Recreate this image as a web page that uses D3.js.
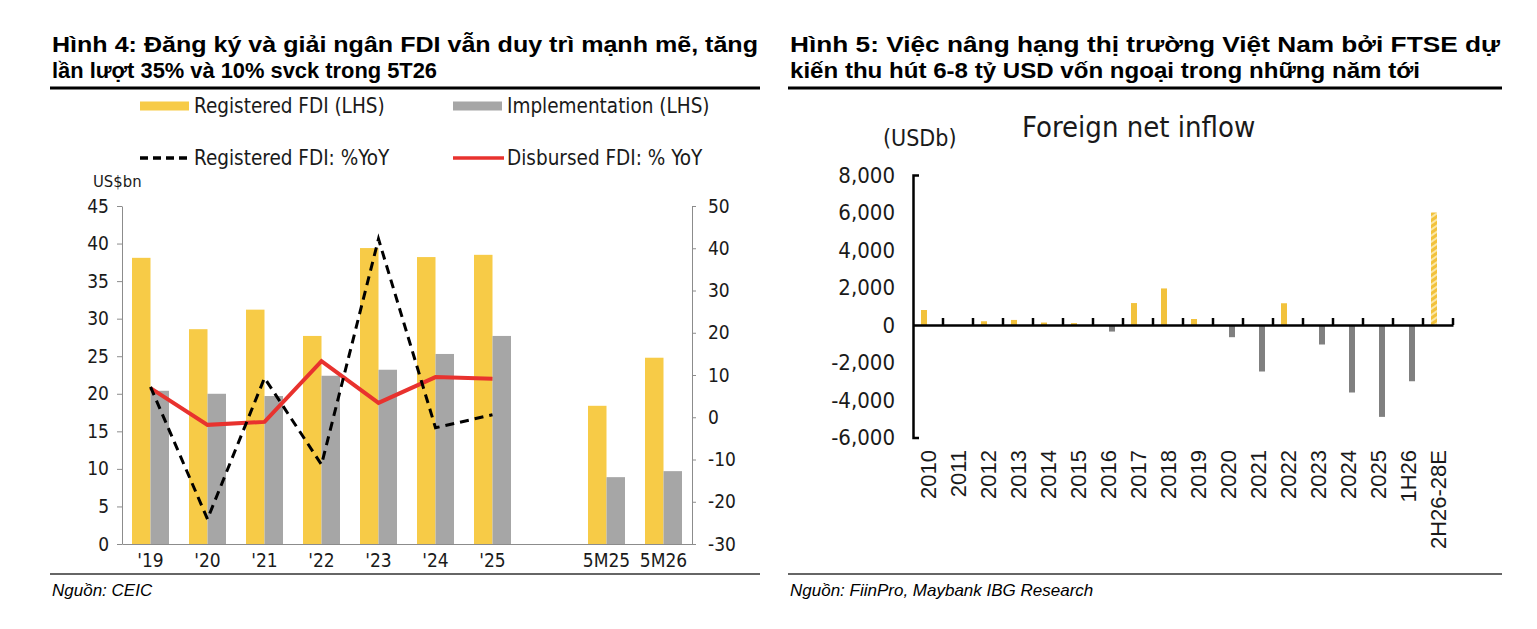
<!DOCTYPE html>
<html lang="vi">
<head>
<meta charset="UTF-8">
<title>FDI and foreign net inflow</title>
<style>
  body { margin: 0; background: #fff; }
  .chart text { font-family: "DejaVu Sans Condensed", "DejaVu Sans", sans-serif; font-stretch: condensed; fill: #1a1a1a; }
  .chart .title { font-family: "Liberation Sans", Arial, sans-serif; font-stretch: normal; font-weight: bold; font-size: 22px; fill: #000; }
  .chart .source { font-family: "Liberation Sans", Arial, sans-serif; font-stretch: normal; font-style: italic; font-size: 17px; fill: #000; }
</style>
</head>
<body>
<div class="canvas"></div>
<script src="https://cdnjs.cloudflare.com/ajax/libs/d3/7.8.5/d3.min.js"></script>
<script>
// ---- data: figure 4 (left)
const leftCats = ["'19", "'20", "'21", "'22", "'23", "'24", "'25", "gap", "5M25", "5M26"];
const registered = [38.1, 28.6, 31.2, 27.7, 39.4, 38.2, 38.5, null, 18.4, 24.8];
const implementation = [20.4, 20.0, 19.7, 22.4, 23.2, 25.3, 27.7, null, 8.9, 9.7];
const regYoY = [7.2, -24.1, 9.3, -11.2, 42.2, -2.5, 0.6];
const disbYoY = [6.9, -1.8, -1.1, 13.3, 3.4, 9.5, 9.1];
const leftTicks = [0, 5, 10, 15, 20, 25, 30, 35, 40, 45];
const rightTicks = [-30, -20, -10, 0, 10, 20, 30, 40, 50];

// ---- data: figure 5 (right)
const flowCats = ['2010', '2011', '2012', '2013', '2014', '2015', '2016', '2017', '2018',
  '2019', '2020', '2021', '2022', '2023', '2024', '2025', '1H26', '2H26-28E'];
const netInflow = [800, 0, 200, 270, 130, 100, -350, 1170, 1950, 320, -650, -2480,
  1160, -1040, -3600, -4900, -3000, 6000];
const flowTicks = [-6000, -4000, -2000, 0, 2000, 4000, 6000, 8000];

const YELLOW = '#f7cb47';
const GREY = '#a6a6a6';
const RED = '#e8322e';
const fmtMinus = f => d => f(d).replace('\u2212', '-');

const svg = d3.select('.canvas')
  .append('svg')
    .attr('class', 'chart')
    .attr('width', 1537)
    .attr('height', 629);

// hatch for the forecast bar
svg.append('defs').append('pattern')
    .attr('id', 'hatch')
    .attr('patternUnits', 'userSpaceOnUse')
    .attr('width', 5).attr('height', 5)
    .attr('patternTransform', 'rotate(-35)')
  .call(p => {
    p.append('rect').attr('width', 5).attr('height', 5).attr('fill', '#fbe7a6');
    p.append('rect').attr('width', 5).attr('height', 3).attr('fill', '#f2c23c');
  });

// ---- titles, rules, sources
function header(x0, x1, line1, line2, w2) {
  svg.append('text').attr('class', 'title').attr('x', x0).attr('y', 52)
    .attr('textLength', x1 - x0).attr('lengthAdjust', 'spacingAndGlyphs').text(line1);
  svg.append('text').attr('class', 'title').attr('x', x0).attr('y', 78)
    .attr('textLength', w2).attr('lengthAdjust', 'spacingAndGlyphs').text(line2);
  svg.append('line').attr('x1', x0 - 2).attr('x2', x1 + 2).attr('y1', 88).attr('y2', 88)
    .attr('stroke', '#000').attr('stroke-width', 3);
  svg.append('line').attr('x1', x0 - 2).attr('x2', x1 + 2).attr('y1', 574).attr('y2', 574)
    .attr('stroke', '#333').attr('stroke-width', 1.5);
}
header(52, 758, 'Hình 4: Đăng ký và giải ngân FDI vẫn duy trì mạnh mẽ, tăng',
  'lần lượt 35% và 10% svck trong 5T26', 385);
header(790, 1500, 'Hình 5: Việc nâng hạng thị trường Việt Nam bởi FTSE dự',
  'kiến thu hút 6-8 tỷ USD vốn ngoại trong những năm tới', 630);
svg.append('text').attr('class', 'source').attr('x', 52).attr('y', 596).text('Nguồn: CEIC');
svg.append('text').attr('class', 'source').attr('x', 790).attr('y', 596)
  .text('Nguồn: FiinPro, Maybank IBG Research');

// ================= left chart =================
const x = d3.scaleBand().domain(leftCats).range([122, 692]);
const xSub = d3.scaleBand().domain(['reg', 'impl']).range([10, 47]);
const yL = d3.scaleLinear().domain([0, 45]).range([544, 206]);
const yR = d3.scaleLinear().domain([-30, 50]).range([544, 206]);

const left = svg.append('g');

left.selectAll('.reg').data(leftCats)
  .enter().append('rect')
    .attr('x', (c) => x(c) + xSub('reg'))
    .attr('width', xSub.bandwidth())
    .attr('y', (c, i) => yL(registered[i] || 0))
    .attr('height', (c, i) => yL(0) - yL(registered[i] || 0))
    .attr('fill', YELLOW);

left.selectAll('.impl').data(leftCats)
  .enter().append('rect')
    .attr('x', (c) => x(c) + xSub('impl'))
    .attr('width', xSub.bandwidth())
    .attr('y', (c, i) => yL(implementation[i] || 0))
    .attr('height', (c, i) => yL(0) - yL(implementation[i] || 0))
    .attr('fill', GREY);

// axes
const axisL = left.append('g').attr('transform', 'translate(122,0)')
  .call(d3.axisLeft(yL).tickValues(leftTicks).tickSize(5).tickSizeOuter(0).tickPadding(8));
const axisR = left.append('g').attr('transform', 'translate(692,0)')
  .call(d3.axisRight(yR).tickValues(rightTicks).tickSize(4).tickSizeOuter(0).tickPadding(12)
    .tickFormat(fmtMinus(d3.format('d'))));
const axisX = left.append('g').attr('transform', 'translate(0,544)')
  .call(d3.axisBottom(x).tickSize(0).tickPadding(10));
axisX.selectAll('.tick').filter(c => c === 'gap').remove();

[axisL, axisR, axisX].forEach(g => {
  g.selectAll('path, line').attr('stroke', '#8c8c8c');
  g.selectAll('text').attr('font-size', 19).attr('font-family', null);
});

// lines
const xMid = c => x(c) + x.bandwidth() / 2;
const line = d3.line().x((d, i) => xMid(leftCats[i])).y(d => yR(d));

left.append('path').datum(disbYoY)
  .attr('d', line).attr('fill', 'none')
  .attr('stroke', RED).attr('stroke-width', 4);

left.append('path').datum(regYoY)
  .attr('d', line).attr('fill', 'none')
  .attr('stroke', '#000').attr('stroke-width', 3).attr('stroke-dasharray', '9,6');

// legend
const legend = left.append('g').attr('font-size', 20.5);
const legendItems = [
  {label: 'Registered FDI (LHS)', x: 140, y: 106, type: 'bar', color: YELLOW},
  {label: 'Implementation (LHS)', x: 453, y: 106, type: 'bar', color: GREY},
  {label: 'Registered FDI: %YoY', x: 140, y: 158, type: 'dash', color: '#000'},
  {label: 'Disbursed FDI: % YoY', x: 453, y: 158, type: 'line', color: RED}
];
legendItems.forEach(d => {
  if (d.type === 'bar') {
    legend.append('rect').attr('x', d.x).attr('y', d.y - 4.5)
      .attr('width', 49).attr('height', 9).attr('fill', d.color);
  } else {
    legend.append('line').attr('x1', d.x).attr('x2', d.x + 51).attr('y1', d.y).attr('y2', d.y)
      .attr('stroke', d.color).attr('stroke-width', 3.5)
      .attr('stroke-dasharray', d.type === 'dash' ? '8,5' : null);
  }
  legend.append('text').attr('x', d.x + 54).attr('y', d.y).attr('dy', '0.35em').text(d.label);
});
left.append('text').attr('x', 93).attr('y', 181).attr('dy', '0.35em')
  .attr('font-size', 16.5).text('US$bn');

// ================= right chart =================
const xF = d3.scaleBand().domain(flowCats).range([913, 1453]);
const xSign = d3.scaleBand().domain(['pos', 'neg']).range([8, 22]).paddingInner(0.25);
const yF = d3.scaleLinear().domain([-6000, 8000]).range([437.5, 175]);

const right = svg.append('g');

right.selectAll('rect').data(flowCats)
  .enter().append('rect')
    .attr('x', (c, i) => xF(c) + xSign(netInflow[i] >= 0 ? 'pos' : 'neg'))
    .attr('width', xSign.bandwidth())
    .attr('y', (c, i) => yF(Math.max(0, netInflow[i])))
    .attr('height', (c, i) => Math.abs(yF(netInflow[i]) - yF(0)))
    .attr('fill', (c, i) => c === '2H26-28E' ? 'url(#hatch)' : (netInflow[i] >= 0 ? '#f2c23c' : '#808080'));

const yAxisF = right.append('g').attr('transform', 'translate(913,0)')
  .call(d3.axisLeft(yF).tickValues(flowTicks).tickSizeInner(0).tickSizeOuter(-6).tickPadding(18)
    .tickFormat(fmtMinus(d3.format(','))));
yAxisF.select('.domain').attr('stroke', '#000').attr('stroke-width', 2.5);
yAxisF.selectAll('text').attr('font-size', 22).attr('font-family', null).attr('fill', '#000');

// zero line with upward ticks on band edges
const zeroAxis = right.append('g').attr('transform', `translate(0,${yF(0)})`)
  .call(d3.axisBottom(xF).tickSize(0).tickFormat(''));
zeroAxis.select('.domain').attr('stroke', '#000').attr('stroke-width', 2.5);
right.append('g').selectAll('line').data(flowCats)
  .enter().append('line')
    .attr('x1', c => xF(c) + xF.bandwidth()).attr('x2', c => xF(c) + xF.bandwidth())
    .attr('y1', yF(0)).attr('y2', yF(0) - 7)
    .attr('stroke', '#000').attr('stroke-width', 2.5);

// rotated category labels
right.append('g').selectAll('text').data(flowCats)
  .enter().append('text')
    .attr('transform', c => `translate(${xF(c) + xF.bandwidth() / 2},450) rotate(-90)`)
    .attr('text-anchor', 'end')
    .attr('dy', '0.35em')
    .attr('style', 'font-family: "Liberation Sans", Arial, sans-serif; font-stretch: normal')
    .attr('font-size', 22)
    .attr('fill', '#000')
    .text(c => c);

right.append('text').attr('x', 1022).attr('y', 127).attr('dy', '0.35em')
  .attr('font-size', 29).attr('fill', '#000').text('Foreign net inflow');
right.append('text').attr('x', 883).attr('y', 138).attr('dy', '0.35em')
  .attr('font-size', 23).attr('fill', '#000').text('(USDb)');
</script>
</body>
</html>
